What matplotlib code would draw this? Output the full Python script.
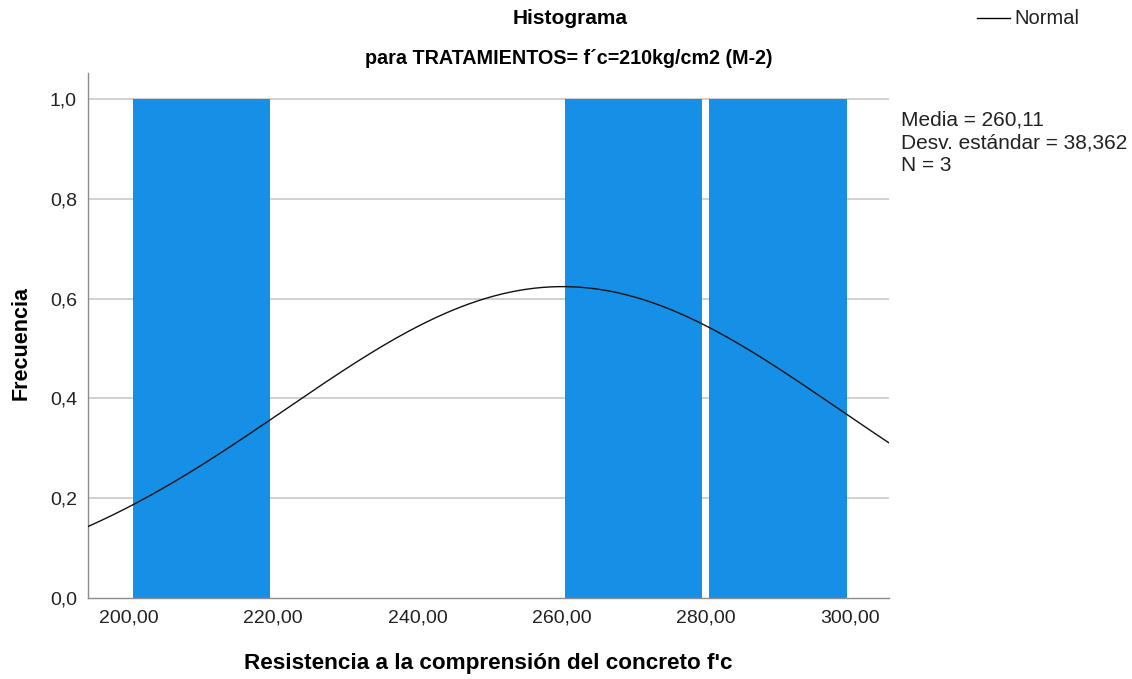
import numpy as np
import matplotlib
matplotlib.use("Agg")
import matplotlib.pyplot as plt
from matplotlib.lines import Line2D

plt.rcParams['font.family'] = ['Liberation Sans', 'DejaVu Sans']

# Histogram bins and frequencies
bin_edges = [200, 220, 240, 260, 280, 300]
counts = [1, 0, 0, 1, 1]

# Summary statistics
media = 260.11
desv = 38.362
n = 3

x_ticks = [200, 220, 240, 260, 280, 300]
x_tick_labels = ["200,00", "220,00", "240,00", "260,00", "280,00", "300,00"]
y_ticks = [0.0, 0.2, 0.4, 0.6, 0.8, 1.0]
y_tick_labels = ["0,0", "0,2", "0,4", "0,6", "0,8", "1,0"]


def coma(v, dec):
    return f"{v:.{dec}f}".replace('.', ',')


W, H = 1132, 679
fig = plt.figure(figsize=(W / 100, H / 100), dpi=100)
ax = fig.add_axes([88 / W, 1 - 598 / H, (889 - 88) / W, (598 - 73) / H])

bar_color = '#1590e6'
bin_w = bin_edges[1] - bin_edges[0]
centers = [(a + b) / 2 for a, b in zip(bin_edges[:-1], bin_edges[1:])]
ax.bar(centers, counts, width=bin_w * 0.952, color=bar_color, zorder=2, linewidth=0)

xmin, xmax = 194.3, 305.4
ax.set_xlim(xmin, xmax)
ax.set_ylim(0, 1.052)

# Normal curve scaled to frequency counts
xs = np.linspace(xmin, xmax, 400)
pdf = np.exp(-0.5 * ((xs - media) / desv) ** 2) / (desv * np.sqrt(2 * np.pi))
ax.plot(xs, n * bin_w * pdf, color='#111111', linewidth=1.0, zorder=3)

for yv in y_ticks[1:]:
    ax.axhline(yv, color='#c8c8c8', linewidth=1.2, zorder=1)

for s in ['top', 'right']:
    ax.spines[s].set_visible(False)
for s in ['left', 'bottom']:
    ax.spines[s].set_color('#8c8c8c')
    ax.spines[s].set_linewidth(1.0)

ax.set_xticks(x_ticks)
ax.set_xticklabels(x_tick_labels, fontsize=14, color='#222222')
ax.set_yticks(y_ticks)
ax.set_yticklabels(y_tick_labels, fontsize=14, color='#222222')
ax.tick_params(axis='both', length=0, pad=8)

ax.set_xlabel("Resistencia a la comprensión del concreto f'c", fontsize=16.2,
              fontweight='bold')
ax.xaxis.set_label_coords(0.5, -0.104)
ax.set_ylabel("Frecuencia", fontsize=15.5, fontweight='bold')
ax.yaxis.set_label_coords(-0.071, 0.485)

fig.text(570 / W, 1 - 18 / H, "Histograma", ha='center', va='center',
         fontsize=15, fontweight='bold')
fig.text(569 / W, 1 - 58 / H, "para TRATAMIENTOS= f\u00b4c=210kg/cm2 (M-2)",
         ha='center', va='center', fontsize=14.2, fontweight='bold')

# Legend entry for the normal curve
fig.add_artist(Line2D([977 / W, 1010 / W], [1 - 18 / H, 1 - 18 / H],
                      color='black', linewidth=1.0))
fig.text(1014 / W, 1 - 19 / H, "Normal", ha='left', va='center', fontsize=14.5,
         color='#222222')

stats = (f"Media = {coma(media, 2)}\n"
         f"Desv. estándar = {coma(desv, 3)}\n"
         f"N = {n}")
fig.text(901 / W, 1 - 111 / H, stats, ha='left', va='top', fontsize=15,
         color='#222222', linespacing=1.23)

fig.savefig("out.png", dpi=100)
